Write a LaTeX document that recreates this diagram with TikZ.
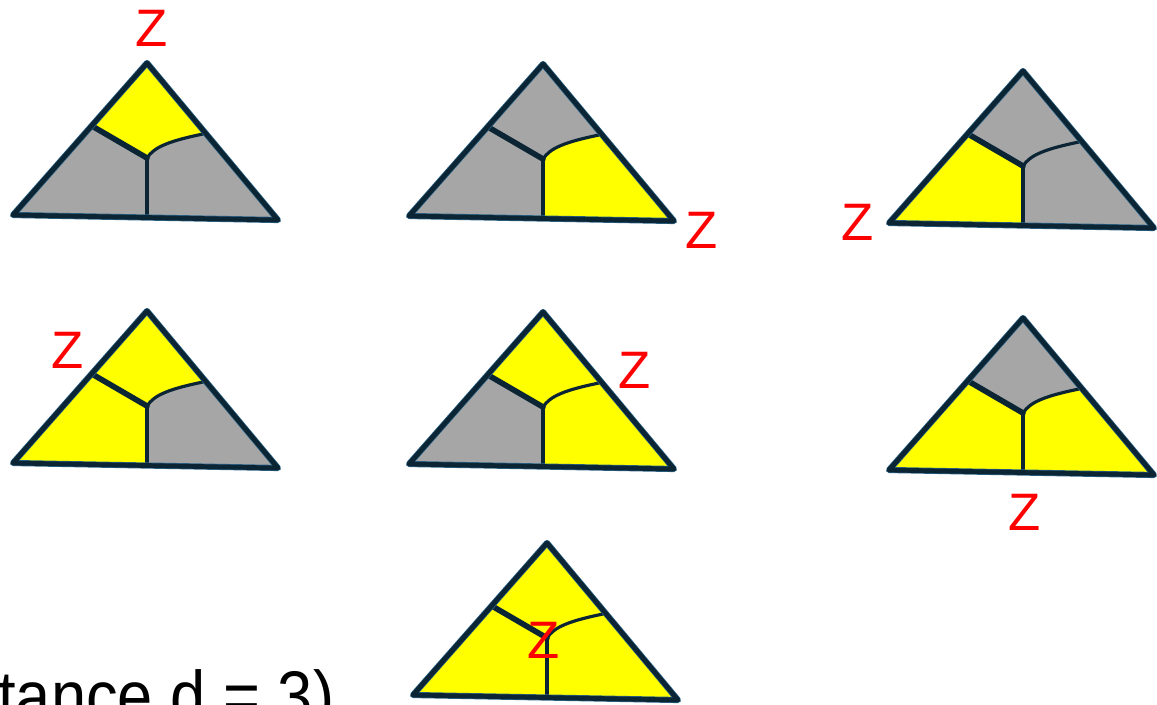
\documentclass[tikz,border=0pt]{standalone}
\usepackage{fontspec}
\setmainfont{Liberation Sans}
\usetikzlibrary{calc}
\definecolor{cellyellow}{HTML}{FFFF00}
\definecolor{cellgray}{HTML}{A6A6A6}
\definecolor{edgeink}{HTML}{0C2535}
\definecolor{edgeglow}{HTML}{2B6488}
\definecolor{zred}{HTML}{FF0000}

\begin{document}
\begin{tikzpicture}[x=0.02cm, y=-0.02cm, line join=round, line cap=round,
  zlabel/.style={text=zred, font=\fontsize{30}{36}\selectfont, inner sep=0pt},
  outline/.style={draw=edgeink, line width=2.7pt},
  wall/.style={draw=edgeink, line width=2pt}]
\useasboundingbox (0,0) rectangle (1157,704);
\foreach \px/\py/\ct/\cl/\cr in {147/63/cellyellow/cellgray/cellgray, 543/64/cellgray/cellgray/cellyellow, 1023/71/cellgray/cellyellow/cellgray, 147/311/cellyellow/cellyellow/cellgray, 543/312/cellyellow/cellgray/cellyellow, 1023/318/cellgray/cellyellow/cellyellow, 547/543/cellyellow/cellyellow/cellyellow}{
\begin{scope}[shift={(\px,\py)}]
\coordinate (apex) at (0,0);
\coordinate (bl) at (-134,152);
\coordinate (br) at (131,157);
\coordinate (lj) at (-55,63);
\coordinate (rj) at (56,71);
\coordinate (mid) at (0,95);
\coordinate (foot) at (0,154);
\fill[\ct] (apex) -- (lj) -- (mid) .. controls (7,84) and (22,78) .. (rj) -- cycle;
\fill[\cl] (lj) -- (mid) -- (foot) -- (bl) -- cycle;
\fill[\cr] (mid) .. controls (7,84) and (22,78) .. (rj) -- (br) -- (foot) -- cycle;
\draw[wall, line width=3.2pt] (lj) -- (mid);
\draw[wall] (mid) -- (foot);
\draw[wall, line width=1.8pt] (mid) .. controls (7,84) and (22,78) .. (rj);
\draw[edgeglow, line width=3.5pt] (apex) -- (br) -- (bl) -- cycle;
\draw[outline] (apex) -- (br) -- (bl) -- cycle;
\end{scope}}
\foreach \zx/\zy [count=\i] in {152/28, 702/230, 858/222, 68/350, 635/370, 1025/512, 544/640}
  \node[zlabel] (z\i) at (\zx,\zy) {Z};
\node[font=\fontsize{40}{48}\selectfont, anchor=base west, inner sep=0pt] (caption) at (-2,720) {\scalebox{0.9}[1]{tance d = 3)}};
\end{tikzpicture}
\end{document}
